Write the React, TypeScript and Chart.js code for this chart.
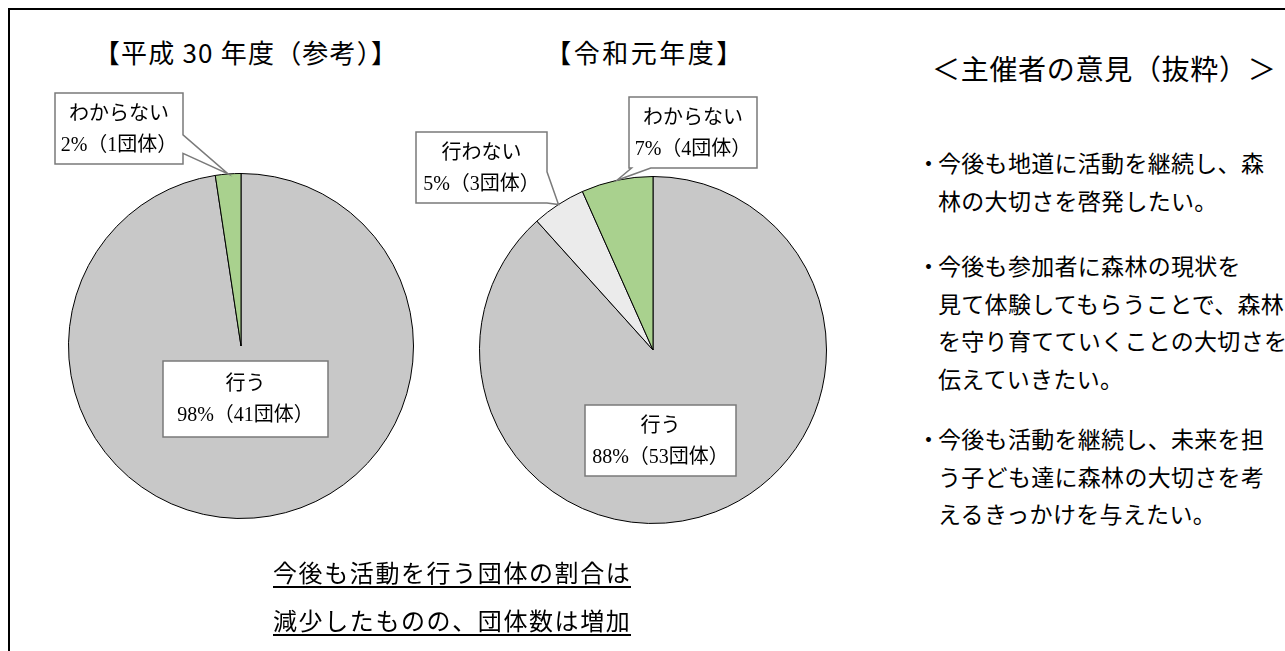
import React, { useEffect, useRef } from "react";
import { Chart, registerables } from "chart.js";

Chart.register(...registerables);

// ---- data ----
const CATEGORIES_H30 = ["行う", "わからない"];
const COUNTS_H30 = [41, 1];
const PERCENTS_H30 = [98, 2];

const CATEGORIES_R1 = ["行う", "行わない", "わからない"];
const COUNTS_R1 = [53, 3, 4];
const PERCENTS_R1 = [88, 5, 7];

const TITLE_H30 = "【平成 30 年度（参考）】";
const TITLE_R1 = "【令和元年度】";
const OPINION_TITLE = "＜主催者の意見（抜粋）＞";
const OPINIONS = [
  ["今後も地道に活動を継続し、森", "林の大切さを啓発したい。"],
  ["今後も参加者に森林の現状を", "見て体験してもらうことで、森林", "を守り育てていくことの大切さを", "伝えていきたい。"],
  ["今後も活動を継続し、未来を担", "う子ども達に森林の大切さを考", "えるきっかけを与えたい。"],
];
const CAPTION = ["今後も活動を行う団体の割合は", "減少したものの、団体数は増加"];

// ---- styles ----
const COLORS_H30 = ["#c8c8c8", "#a9d18e"];
const COLORS_R1 = ["#c8c8c8", "#ebebeb", "#a9d18e"];
const FONT_CJK = '"Noto Sans CJK JP", "Noto Sans", sans-serif';
const FONT_LABEL = '"Liberation Serif", "Noto Sans CJK JP", serif';

type Callout = { dx: number; dy: number; w: number; h: number; side?: "right" | "bottom"; f1?: number; f2?: number };

const CALLOUTS_H30: Callout[] = [
  { dx: -78, dy: 15, w: 165, h: 76 },
  { dx: -186, dy: -253, w: 128, h: 71, side: "right", f1: 0.59, f2: 0.85 },
];
const CALLOUTS_R1: Callout[] = [
  { dx: -68, dy: 55, w: 151, h: 71 },
  { dx: -237, dy: -218, w: 131, h: 71, side: "right", f1: 0.56, f2: 1.0 },
  { dx: -24, dy: -253, w: 128, h: 71, side: "bottom", f1: 0.02, f2: 0.17 },
];

type PieProps = {
  left: number;
  top: number;
  width: number;
  height: number;
  padding: { left: number; top: number; right: number; bottom: number };
  categories: string[];
  counts: number[];
  percents: number[];
  colors: string[];
  callouts: Callout[];
};

function PieChart(props: PieProps) {
  const ref = useRef<HTMLCanvasElement | null>(null);
  useEffect(() => {
    const { categories, counts, percents, colors, callouts, padding } = props;
    const calloutPlugin = {
      id: "callouts",
      afterDatasetsDraw(chart: any) {
        const ctx = chart.ctx as CanvasRenderingContext2D;
        const meta = chart.getDatasetMeta(0);
        meta.data.forEach((arc: any, i: number) => {
          const p = arc.getProps(["x", "y", "startAngle", "endAngle", "outerRadius"], true);
          const c = callouts[i];
          if (!c) return;
          const bx = p.x + c.dx;
          const by = p.y + c.dy;
          const w = c.w;
          const h = c.h;
          ctx.save();
          ctx.lineWidth = 1.5;
          ctx.strokeStyle = "#7a7a7a";
          ctx.fillStyle = "#ffffff";
          ctx.lineJoin = "miter";
          ctx.beginPath();
          if (c.side) {
            const mid = (p.startAngle + p.endAngle) / 2;
            const tx = p.x + Math.cos(mid) * p.outerRadius;
            const ty = p.y + Math.sin(mid) * p.outerRadius;
            const f1 = c.f1 ?? 0.4;
            const f2 = c.f2 ?? 0.6;
            ctx.moveTo(bx, by);
            ctx.lineTo(bx + w, by);
            if (c.side === "right") {
              ctx.lineTo(bx + w, by + f1 * h);
              ctx.lineTo(tx, ty);
              ctx.lineTo(bx + w, by + f2 * h);
              ctx.lineTo(bx + w, by + h);
              ctx.lineTo(bx, by + h);
            } else {
              ctx.lineTo(bx + w, by + h);
              ctx.lineTo(bx + f2 * w, by + h);
              ctx.lineTo(tx, ty);
              ctx.lineTo(bx + f1 * w, by + h);
              ctx.lineTo(bx, by + h);
            }
            ctx.closePath();
          } else {
            ctx.rect(bx, by, w, h);
          }
          ctx.fill();
          ctx.stroke();
          ctx.fillStyle = "#000000";
          ctx.font = `20px ${FONT_LABEL}`;
          ctx.textAlign = "center";
          ctx.textBaseline = "middle";
          const cx = bx + w / 2;
          const cy = by + h / 2;
          ctx.fillText(categories[i], cx, cy - 14);
          ctx.fillText(`${percents[i]}%（${counts[i]}団体）`, cx, cy + 17);
          ctx.restore();
        });
      },
    };
    const chart = new Chart(ref.current as HTMLCanvasElement, {
      type: "pie",
      data: {
        labels: categories,
        datasets: [
          {
            data: counts,
            backgroundColor: colors,
            borderColor: "#000000",
            borderWidth: 1,
            hoverOffset: 0,
            offset: 0,
          } as any,
        ],
      },
      options: {
        responsive: false,
        maintainAspectRatio: false,
        animation: false,
        events: [],
        layout: { padding },
        plugins: {
          legend: { display: false },
          tooltip: { enabled: false },
        },
      },
      plugins: [calloutPlugin],
    });
    return () => chart.destroy();
  }, []);
  return (
    <canvas
      ref={ref}
      width={props.width}
      height={props.height}
      style={{ position: "absolute", left: props.left, top: props.top, width: props.width, height: props.height }}
    />
  );
}

export default function App() {
  useEffect(() => {
    document.body.style.overflow = "hidden";
  }, []);
  const abs = (extra: React.CSSProperties): React.CSSProperties => ({
    position: "absolute",
    whiteSpace: "nowrap",
    fontFamily: FONT_CJK,
    color: "#000",
    ...extra,
  });
  const LINE = 37.5;
  const paraTops = [162, 265, 438];
  return (
    <div style={{ position: "absolute", left: 0, top: 0, width: 1285, height: 651, overflow: "hidden", background: "#fff" }}>
      <div
        style={{
          position: "absolute",
          left: 8,
          top: 8,
          width: 1277,
          height: 643,
          borderTop: "2px solid #000",
          borderLeft: "2px solid #000",
          boxSizing: "border-box",
        }}
      />
      <div
        style={abs({ left: 246 - 200, width: 400, top: 52 - 19, lineHeight: "38px", fontSize: 26, letterSpacing: 1.2, textAlign: "center" })}
      >
        {TITLE_H30}
      </div>
      <div
        style={abs({ left: 645 - 200, width: 400, top: 52 - 19, lineHeight: "38px", fontSize: 26, letterSpacing: 2.5, textAlign: "center" })}
      >
        {TITLE_R1}
      </div>
      <PieChart
        left={30}
        top={80}
        width={420}
        height={470}
        padding={{ left: 38, top: 93, right: 36, bottom: 31 }}
        categories={CATEGORIES_H30}
        counts={COUNTS_H30}
        percents={PERCENTS_H30}
        colors={COLORS_H30}
        callouts={CALLOUTS_H30}
      />
      <PieChart
        left={400}
        top={80}
        width={460}
        height={480}
        padding={{ left: 79, top: 96, right: 33, bottom: 36 }}
        categories={CATEGORIES_R1}
        counts={COUNTS_R1}
        percents={PERCENTS_R1}
        colors={COLORS_R1}
        callouts={CALLOUTS_R1}
      />
      {CAPTION.map((t, i) => (
        <div key={i} style={abs({ left: 273, top: 572 + i * 48 - 14, lineHeight: "28px", fontSize: 24 })}>
          <span style={{ display: "inline-block", lineHeight: "28px", height: 28, borderBottom: "2px solid #000", letterSpacing: 1.6 }}>
            {t}
          </span>
        </div>
      ))}
      <div style={abs({ left: 932, top: 68 - 20, lineHeight: "40px", fontSize: 28, letterSpacing: 0.7 })}>{OPINION_TITLE}</div>
      {OPINIONS.map((para, pi) => (
        <React.Fragment key={pi}>
          <div style={abs({ left: 917, top: paraTops[pi] - 16, lineHeight: "32px", fontSize: 23 })}>・</div>
          {para.map((line, li) => (
            <div
              key={li}
              style={abs({ left: 938, top: paraTops[pi] + li * LINE - 16, lineHeight: "32px", fontSize: 23, letterSpacing: 0.3 })}
            >
              {line}
            </div>
          ))}
        </React.Fragment>
      ))}
    </div>
  );
}
